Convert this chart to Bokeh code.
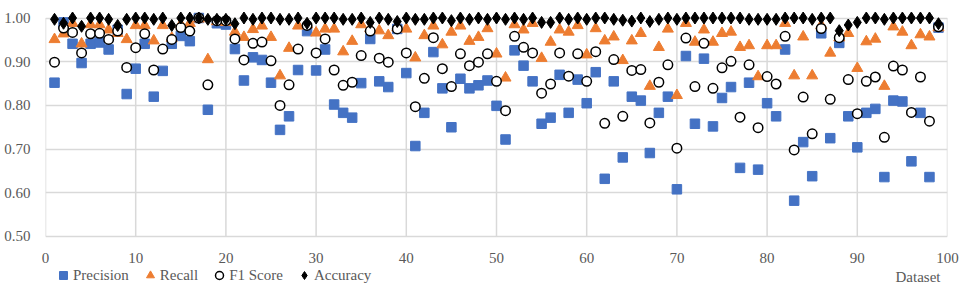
from bokeh.plotting import figure
from bokeh.layouts import column
from bokeh.models import (Range1d, FixedTicker, NumeralTickFormatter, Legend, LegendItem,
                          Label, ColumnDataSource)
from bokeh.embed import file_html
from bokeh.resources import INLINE

dataset = list(range(1, 100))

precision = [0.852, 0.990, 0.941, 0.897, 0.941, 0.944, 0.928, 0.973, 0.826, 0.884,
             0.941, 0.820, 0.879, 0.941, 0.959, 0.947, 1.000, 0.790, 0.988, 0.985,
             0.929, 0.857, 0.910, 0.904, 0.852, 0.744, 0.775, 0.881, 0.970, 0.880,
             0.928, 0.802, 0.783, 0.772, 0.851, 0.952, 0.855, 0.842, 0.975, 0.874,
             0.707, 0.783, 0.922, 0.839, 0.750, 0.861, 0.839, 0.846, 0.857, 0.799,
             0.722, 0.926, 0.891, 0.855, 0.758, 0.772, 0.870, 0.783, 0.859, 0.805,
             0.876, 0.632, 0.855, 0.681, 0.820, 0.811, 0.691, 0.783, 0.820, 0.608,
             0.913, 0.758, 0.907, 0.752, 0.817, 0.842, 0.657, 0.852, 0.653, 0.805,
             0.775, 0.928, 0.582, 0.716, 0.638, 0.965, 0.725, 0.943, 0.775, 0.704,
             0.783, 0.792, 0.636, 0.811, 0.809, 0.672, 0.783, 0.636, 0.978]

recall = [0.951, 0.964, 0.988, 0.941, 0.985, 0.985, 0.973, 0.965, 0.951, 0.983,
          0.983, 0.948, 0.983, 0.954, 0.985, 0.988, 0.998, 0.905, 0.992, 0.990,
          0.968, 0.956, 0.974, 0.982, 0.956, 0.868, 0.931, 0.982, 0.985, 0.966,
          0.975, 0.975, 0.923, 0.947, 0.985, 0.976, 0.971, 0.960, 0.978, 0.975,
          0.909, 0.960, 0.982, 0.939, 0.968, 0.982, 0.947, 0.956, 0.976, 0.918,
          0.863, 0.985, 0.973, 0.988, 0.908, 0.945, 0.973, 0.968, 0.983, 0.916,
          0.976, 0.948, 0.957, 0.903, 0.948, 0.965, 0.844, 0.933, 0.975, 0.823,
          0.988, 0.945, 0.973, 0.945, 0.965, 0.968, 0.933, 0.937, 0.866, 0.937,
          0.937, 0.988, 0.868, 0.957, 0.868, 0.983, 0.920, 0.955, 0.965, 0.885,
          0.946, 0.952, 0.844, 0.980, 0.968, 0.937, 0.962, 0.957, 0.978]

f1_score = [0.899, 0.977, 0.967, 0.920, 0.964, 0.965, 0.951, 0.970, 0.887, 0.932,
            0.964, 0.881, 0.929, 0.951, 0.978, 0.970, 1.000, 0.847, 0.994, 0.994,
            0.952, 0.904, 0.942, 0.945, 0.902, 0.800, 0.847, 0.929, 0.983, 0.920,
            0.952, 0.881, 0.846, 0.853, 0.914, 0.970, 0.908, 0.899, 0.975, 0.920,
            0.797, 0.862, 0.955, 0.884, 0.843, 0.918, 0.891, 0.899, 0.918, 0.855,
            0.788, 0.958, 0.933, 0.920, 0.828, 0.849, 0.920, 0.867, 0.918, 0.855,
            0.923, 0.759, 0.905, 0.775, 0.880, 0.882, 0.760, 0.853, 0.893, 0.702,
            0.954, 0.843, 0.942, 0.839, 0.886, 0.901, 0.773, 0.893, 0.749, 0.866,
            0.849, 0.958, 0.698, 0.819, 0.735, 0.976, 0.814, 0.955, 0.859, 0.781,
            0.855, 0.865, 0.727, 0.890, 0.881, 0.784, 0.865, 0.764, 0.980]

accuracy = [0.997, 0.988, 1.000, 0.981, 1.000, 1.000, 0.997, 0.983, 0.997, 1.000,
            1.000, 0.997, 1.000, 0.983, 1.000, 1.000, 1.000, 0.997, 0.997, 0.997,
            0.987, 1.000, 0.997, 1.000, 1.000, 0.997, 0.997, 1.000, 0.988, 1.000,
            1.000, 1.000, 0.997, 0.997, 1.000, 0.990, 1.000, 0.997, 0.992, 1.000,
            0.997, 0.997, 1.000, 1.000, 0.994, 1.000, 0.997, 1.000, 0.997, 1.000,
            0.997, 1.000, 0.997, 1.000, 0.990, 0.990, 1.000, 0.997, 1.000, 0.997,
            1.000, 1.000, 0.997, 0.995, 0.993, 1.000, 0.992, 0.997, 1.000, 0.997,
            1.000, 1.000, 1.000, 1.000, 1.000, 1.000, 1.000, 0.997, 0.997, 0.997,
            0.997, 1.000, 1.000, 1.000, 0.997, 1.000, 1.000, 0.971, 0.984, 0.990,
            1.000, 1.000, 0.997, 1.000, 1.000, 1.000, 1.000, 1.000, 0.987]

series_names = ["Precision", "Recall", "F1 Score", "Accuracy"]
x_ticks = [0, 10, 20, 30, 40, 50, 60, 70, 80, 90, 100]
y_ticks = [0.5, 0.6, 0.7, 0.8, 0.9, 1.0]
x_title = "Dataset"

FONT = "serif"
TXT = "#595959"
GRID = "#d9d9d9"

styles = [dict(marker="square", size=9.5, fill_color="#4472C4", line_color="#4472C4"),
          dict(marker="triangle", size=11, fill_color="#ED7D31", line_color="#ED7D31"),
          dict(marker="circle", size=9.5, fill_color="white", line_color="black", line_width=1.5),
          dict(marker="diamond", size=12, fill_color="black", line_color="black")]

W = 965
x_range = Range1d(0, 100)

# main chart (no bottom axis: the x axis sits on top of the strip below)
p = figure(width=W, height=247, output_backend="svg", toolbar_location=None,
           x_range=x_range, y_range=Range1d(0.4954, 1.0149), x_axis_type=None,
           min_border_left=45, min_border_right=18, min_border_top=11, min_border_bottom=9)
p.outline_line_color = None
p.ygrid.ticker = FixedTicker(ticks=y_ticks)
p.ygrid.grid_line_color = GRID
p.ygrid.grid_line_width = 1.5
p.segment(x0=x_ticks, y0=[y_ticks[0]] * len(x_ticks), x1=x_ticks, y1=[y_ticks[-1]] * len(x_ticks),
          line_color=GRID, line_width=1.5)

yax = p.yaxis[0]
yax.axis_line_color = None
yax.major_tick_line_color = None
yax.minor_tick_line_color = None
yax.major_tick_out = 0
yax.major_tick_in = 0
yax.ticker = FixedTicker(ticks=y_ticks)
yax.formatter = NumeralTickFormatter(format="0.00")
yax.major_label_standoff = 15
yax.major_label_text_font = FONT
yax.major_label_text_font_size = "15px"
yax.major_label_text_color = TXT

src = ColumnDataSource(dict(x=dataset, pr=precision, re=recall, f1=f1_score, ac=accuracy))
for col, st in zip(["pr", "re", "f1", "ac"], styles):
    p.scatter("x", col, source=src, **st)

# strip below: x axis labels on top, legend and axis title inside
p2 = figure(width=W, height=42, output_backend="svg", toolbar_location=None,
            x_range=x_range, y_range=Range1d(10, 11), x_axis_location="above", y_axis_type=None,
            min_border_left=45, min_border_right=18, min_border_top=16, min_border_bottom=0)
p2.outline_line_color = None
p2.xgrid.visible = False
p2.ygrid.visible = False

xax = p2.xaxis[0]
xax.axis_line_color = None
xax.major_tick_line_color = None
xax.minor_tick_line_color = None
xax.major_tick_out = 0
xax.major_tick_in = 0
xax.ticker = FixedTicker(ticks=x_ticks)
xax.major_label_standoff = 1
xax.major_label_text_font = FONT
xax.major_label_text_font_size = "15px"
xax.major_label_text_color = TXT

items = []
for name, col, st in zip(series_names, ["pr", "re", "f1", "ac"], styles):
    r = p2.scatter("x", col, source=src, **st)  # values lie outside this strip's y range
    items.append(LegendItem(label=name, renderers=[r]))

legend = Legend(items=items, orientation="horizontal", location=(8, 3),
                glyph_width=20, glyph_height=22, label_standoff=0, spacing=11,
                padding=0, margin=0, border_line_color=None, background_fill_alpha=0,
                label_text_font=FONT, label_text_font_size="15px", label_text_color=TXT,
                label_height=22)
p2.add_layout(legend)

p2.add_layout(Label(x=100, y=10.5, text=x_title, text_align="right", text_baseline="middle",
                    x_offset=-7, text_font=FONT, text_font_size="15px", text_color=TXT))

layout = column(p, p2, spacing=0)
open("out.html", "w").write(file_html(layout, INLINE))
